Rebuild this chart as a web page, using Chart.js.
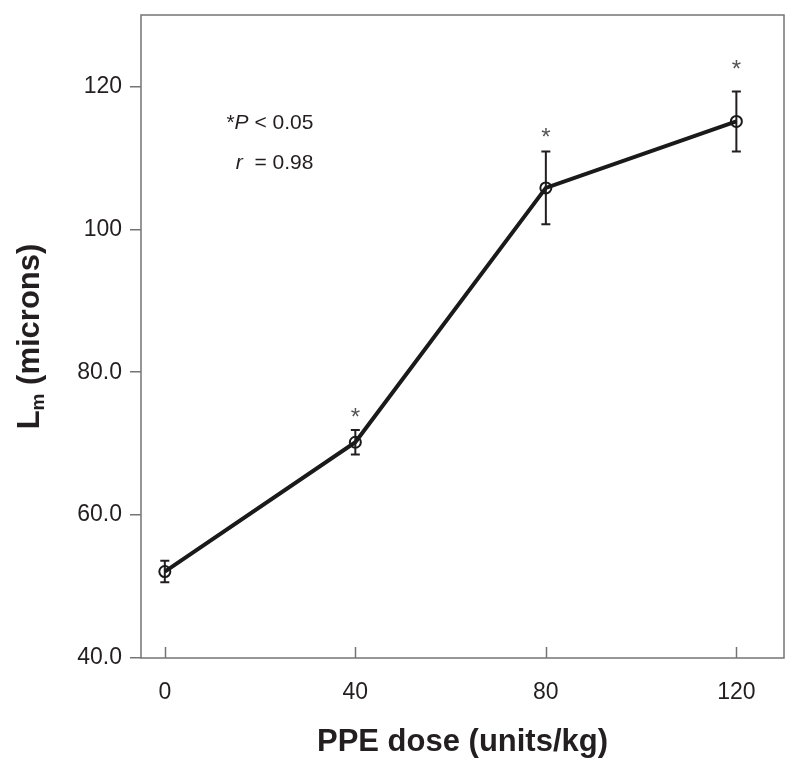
<!DOCTYPE html>
<html>
<head>
<meta charset="UTF-8">
<title>Lm vs PPE dose</title>
<style>
  html, body { margin: 0; padding: 0; background: #fff; }
  #wrap { width: 800px; height: 772px; }
</style>
<script src="https://cdn.jsdelivr.net/npm/chart.js"></script>
</head>
<body>
<div id="wrap"><canvas id="lmChart" width="800" height="772"></canvas></div>
<script>
// data
const doses = [0, 40, 80, 120];
const lmMean = [52.1, 70.2, 105.8, 115.1];
const lmErr = [1.5, 1.7, 5.1, 4.2];
const starY = [null, 74.4, 113.6, 123.1];   // centre of the "*" marks
const xTicks = [0, 40, 80, 120];
const yTicks = [40, 60, 80, 100, 120];
const yTickLabels = ['40.0', '60.0', '80.0', '100', '120'];

const FONT = '"Liberation Sans", Arial, Helvetica, sans-serif';
const INK = '#231f20';
const FRAME = '#747474';

const overlay = {
    id: 'overlay',
    beforeDatasetsDraw(chart) {
        const { ctx, chartArea: a, scales: { x, y } } = chart;
        ctx.save();
        // plot frame
        ctx.strokeStyle = FRAME;
        ctx.lineWidth = 1.5;
        ctx.strokeRect(a.left, a.top, a.right - a.left, a.bottom - a.top);
        // x ticks point inward
        ctx.beginPath();
        xTicks.forEach(v => {
            const px = Math.round(x.getPixelForValue(v)) + 0.5;
            ctx.moveTo(px, a.bottom);
            ctx.lineTo(px, a.bottom - 11);
        });
        ctx.stroke();
        // error bars
        ctx.strokeStyle = INK;
        ctx.lineWidth = 2;
        doses.forEach((d, i) => {
            const px = x.getPixelForValue(d);
            const top = y.getPixelForValue(lmMean[i] + lmErr[i]);
            const bot = y.getPixelForValue(lmMean[i] - lmErr[i]);
            ctx.beginPath();
            ctx.moveTo(px, top); ctx.lineTo(px, bot);
            ctx.moveTo(px - 4.5, top); ctx.lineTo(px + 4.5, top);
            ctx.moveTo(px - 4.5, bot); ctx.lineTo(px + 4.5, bot);
            ctx.stroke();
        });
        ctx.restore();
    },
    afterDatasetsDraw(chart) {
        const { ctx, chartArea: a, scales: { x, y } } = chart;
        ctx.save();
        // significance marks
        ctx.fillStyle = '#555';
        ctx.font = '24px ' + FONT;
        ctx.textAlign = 'center';
        ctx.textBaseline = 'alphabetic';
        doses.forEach((d, i) => {
            if (starY[i] == null) return;
            ctx.fillText('*', x.getPixelForValue(d), y.getPixelForValue(starY[i]) + 0.55 * 24);
        });

        // annotation, right aligned
        const right = x.getPixelForValue(31.2);
        const drawParts = (parts, cy) => {
            ctx.textBaseline = 'middle';
            ctx.textAlign = 'left';
            let w = 0;
            parts.forEach(p => { ctx.font = p[1] + ' 21px ' + FONT; w += ctx.measureText(p[0]).width; });
            let cx = right - w;
            parts.forEach(p => {
                ctx.font = p[1] + ' 21px ' + FONT;
                ctx.fillText(p[0], cx, cy);
                cx += ctx.measureText(p[0]).width;
            });
        };
        ctx.fillStyle = INK;
        drawParts([['*', 'normal'], ['P', 'italic'], [' < 0.05', 'normal']], y.getPixelForValue(114.9));
        drawParts([['r', 'italic'], ['  = 0.98', 'normal']], y.getPixelForValue(109.3));

        // y axis title with subscript
        ctx.translate(30, (a.top + a.bottom) / 2);
        ctx.rotate(-Math.PI / 2);
        ctx.textBaseline = 'middle';
        ctx.textAlign = 'left';
        ctx.font = 'bold 31px ' + FONT;
        const wL = ctx.measureText('L').width;
        const wRest = ctx.measureText(' (microns)').width;
        ctx.font = 'bold 19px ' + FONT;
        const wSub = ctx.measureText('m').width;
        let sx = -(wL + wSub + wRest) / 2;
        ctx.font = 'bold 31px ' + FONT;
        ctx.fillText('L', sx, 0);
        sx += wL;
        ctx.font = 'bold 19px ' + FONT;
        ctx.fillText('m', sx, 9);
        sx += wSub;
        ctx.font = 'bold 31px ' + FONT;
        ctx.fillText(' (microns)', sx, 0);
        ctx.restore();
    }
};

const ctx = document.getElementById('lmChart').getContext('2d');
const chart = new Chart(ctx, {
    type: 'line',
    data: {
        datasets: [{
            data: doses.map((d, i) => ({ x: d, y: lmMean[i] })),
            borderColor: '#1a1a1a',
            borderWidth: 4,
            pointRadius: 5.5,
            pointBorderWidth: 2,
            pointBorderColor: '#1a1a1a',
            pointBackgroundColor: 'rgba(0,0,0,0)',
            fill: false,
            tension: 0
        }]
    },
    options: {
        responsive: false,
        animation: false,
        layout: { padding: { top: 15, right: 16, left: 0, bottom: 0 } },
        plugins: { legend: { display: false }, tooltip: { enabled: false } },
        scales: {
            x: {
                type: 'linear',
                min: -5,
                max: 130,
                afterBuildTicks: s => { s.ticks = xTicks.map(v => ({ value: v })); },
                afterFit: s => { s.height = 114; s.paddingLeft = 0; s.paddingRight = 0; },
                grid: { drawOnChartArea: false, drawTicks: false },
                border: { display: false },
                ticks: { color: INK, padding: 21, font: { family: FONT, size: 23 } },
                title: {
                    display: true,
                    text: 'PPE dose (units/kg)',
                    color: INK,
                    font: { family: FONT, size: 31, weight: 'bold' },
                    padding: { top: 0, bottom: 11 }
                }
            },
            y: {
                min: 40,
                max: 130,
                afterBuildTicks: s => { s.ticks = yTicks.map(v => ({ value: v })); },
                afterFit: s => { s.width = 141; s.paddingTop = 0; s.paddingBottom = 0; },
                grid: { drawOnChartArea: false, drawTicks: true, tickLength: 11, color: FRAME, lineWidth: 1.5 },
                border: { display: false },
                ticks: {
                    color: INK,
                    padding: 8,
                    font: { family: FONT, size: 23 },
                    callback: v => yTickLabels[yTicks.indexOf(v)]
                }
            }
        }
    },
    plugins: [overlay]
});
</script>
</body>
</html>
